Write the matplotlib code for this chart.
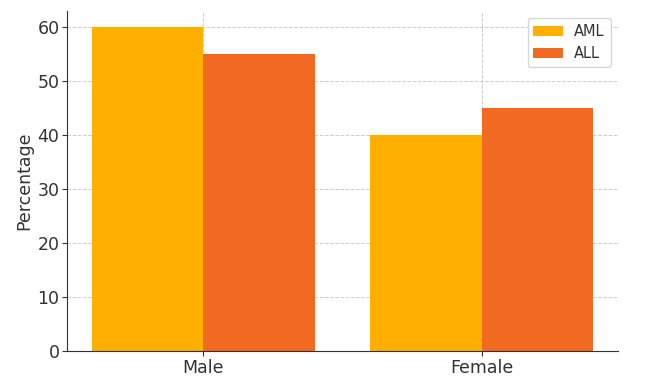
import matplotlib
matplotlib.use("Agg")
import matplotlib.pyplot as plt
import numpy as np

genders = ["Male", "Female"]
aml = [60, 40]
all_ = [55, 45]

fig = plt.figure(figsize=(6.51, 3.78), dpi=100)
ax = fig.add_axes([0.103, 0.071, 0.846, 0.900])

x = np.arange(len(genders))
w = 0.4
ax.bar(x - w / 2, aml, w, color="#FEAF00", label="AML", zorder=2)
ax.bar(x + w / 2, all_, w, color="#F26A22", label="ALL", zorder=2)

ax.set_xticks(x)
ax.set_xticklabels(genders)
ax.set_ylabel("Percentage", fontsize=12.5, color="#333333", labelpad=3)
ax.tick_params(labelsize=12.5, colors="#333333", pad=2)
ax.grid(True, linestyle="--", color="#cccccc", linewidth=0.7, zorder=0)
ax.set_axisbelow(True)
for s in ["top", "right"]:
    ax.spines[s].set_visible(False)
for s in ["left", "bottom"]:
    ax.spines[s].set_color("#333333")
ax.legend(loc="upper right", fontsize=10.5, labelcolor="#333333")

fig.savefig("out.png", dpi=100)
